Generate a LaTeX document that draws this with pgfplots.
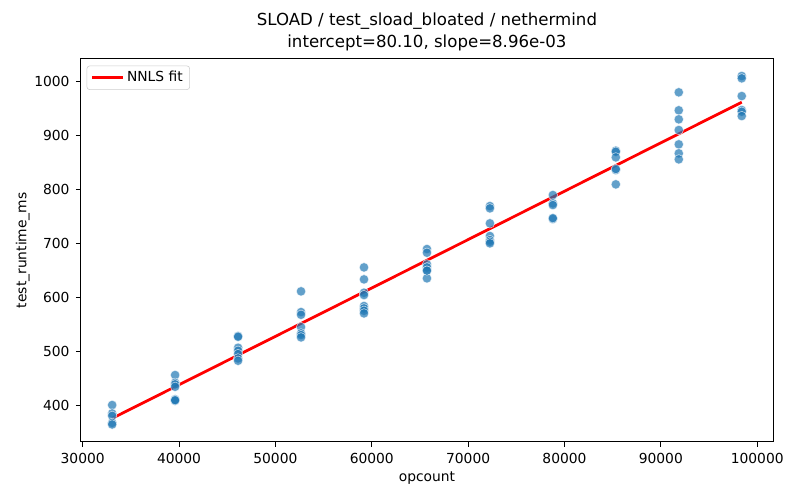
\documentclass[border=0pt]{standalone}
\usepackage{fontspec}
\setmainfont{DejaVu Sans}
\usepackage{pgfplots}
\pgfplotsset{compat=1.18}
\definecolor{c0}{HTML}{1F77B4}
\begin{document}
\begin{tikzpicture}
\begin{axis}[
  name=ax,
  scale only axis,
  width=500.5pt, height=276.8pt,
  xmin=29792, xmax=101660,
  ymin=333, ymax=1042.2,
  xtick={30000,40000,50000,60000,70000,80000,90000,100000},
  ytick={400,500,600,700,800,900,1000},
  scaled x ticks=false, scaled y ticks=false,
  /pgf/number format/.cd, fixed, precision=0, 1000 sep={}, assume math mode=true, /pgfplots/.cd,
  tick align=outside, tick pos=left,
  major tick length=3.5pt,
  tick style={black, line width=0.6pt},
  axis line style={line width=0.6pt},
  tick label style={font=\fontsize{10}{12}\selectfont},
  xticklabel style={yshift=-1pt},
  yticklabel style={xshift=-1pt},
  xlabel={opcount}, ylabel={test\_runtime\_ms},
  label style={font=\fontsize{10}{12}\selectfont},
  xlabel style={yshift=0.5pt},
  ylabel style={yshift=-3.5pt},
  title={SLOAD / test\_sload\_bloated / nethermind\\intercept=80.10, slope=8.96e-03},
  title style={at={(0.5,1)}, anchor=south, inner sep=0pt, yshift=-0.3pt, align=center, font=\fontsize{12}{15.5}\selectfont},
  legend style={at={(0,1)}, anchor=north west, xshift=4.3pt, yshift=-5pt,
    draw=black!20, rounded corners=2pt, font=\fontsize{10}{12}\selectfont,
    inner xsep=3pt, inner ysep=2pt},
  legend cell align=left,
  legend image code/.code={\draw[#1] (0pt,0pt) -- (22pt,0pt);},
]
\addplot[only marks, mark=*, mark size=3.4pt,
  mark options={fill=c0, draw=white, line width=0.4pt, opacity=0.7}, forget plot]
coordinates {
(33060,401) (33060,385.4) (33060,381) (33060,368) (33060,365)
(39593,456.5) (39593,442.2) (39593,439.3) (39593,434.8) (39593,411.5) (39593,408.9) (39593,410)
(46127,528.7) (46127,527.4) (46127,507) (46127,501.5) (46127,495.4) (46127,487.4) (46127,483)
(52660,611.5) (52660,573.1) (52660,568.1) (52660,545.4) (52660,533.7) (52660,530.6) (52660,526.3)
(59194,655.9) (59194,633.7) (59194,608.9) (59194,604.6) (59194,584.3) (59194,580) (59194,575.6) (59194,570.7)
(65727,689.8) (65727,683) (65727,661.5) (65727,655.9) (65727,649.6) (65727,635.6) (65727,650)
(72261,769.4) (72261,765.2) (72261,737.4) (72261,713.9) (72261,706.5) (72261,703.3) (72261,700.4)
(78794,789.8) (78794,774.4) (78794,771.3) (78794,745.4) (78794,747)
(85327,871.9) (85327,870) (85327,859.6) (85327,836.1) (85327,838) (85327,809.6)
(91861,980) (91861,946.7) (91861,930) (91861,910.2) (91861,883.7) (91861,867) (91861,855.9)
(98394,1010.2) (98394,1005.9) (98394,973.1) (98394,947.2) (98394,944.1) (98394,936.1)
};
\addplot[red, line width=2pt] coordinates {(33060,376.3) (98394,961.7)};
\addlegendentry{NNLS fit}
\end{axis}
\pgfresetboundingbox
\path[use as bounding box] (ax.south west) ++(-58.3pt,-42.1pt) rectangle ++(578.16pt,361.35pt);
\end{tikzpicture}
\end{document}
